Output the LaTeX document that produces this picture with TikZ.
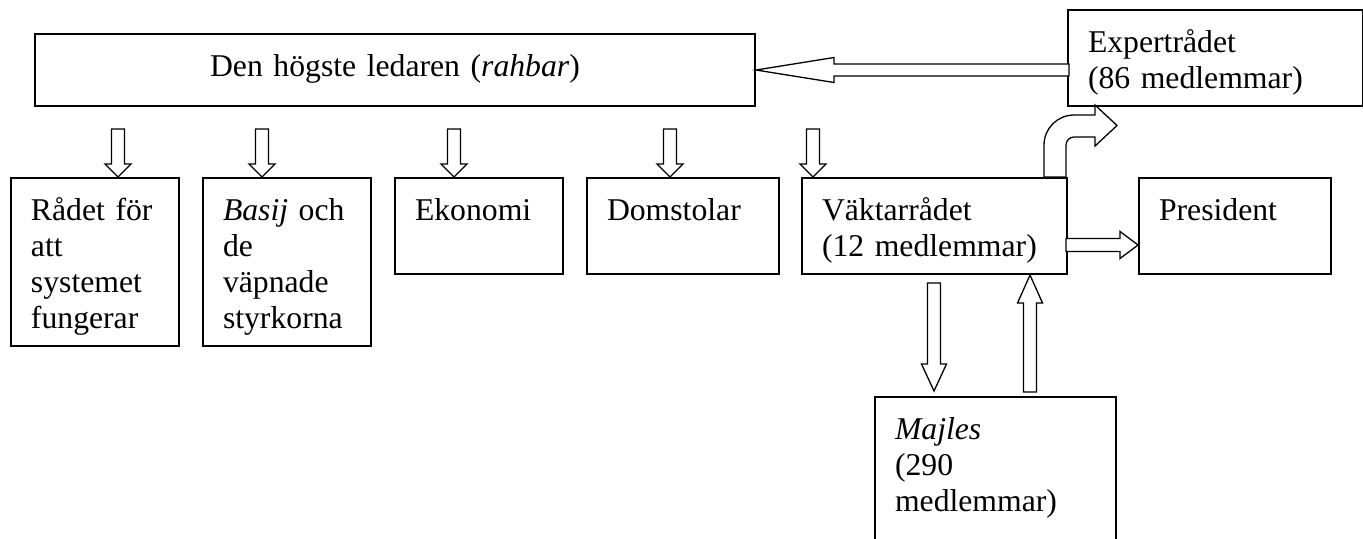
\documentclass[tikz,border=0pt]{standalone}
\usepackage{fontspec}
\setmainfont{Liberation Serif}
\usetikzlibrary{calc,positioning}
% line strut: fixes the line pitch at 18pt
\newcommand{\lstrut}{\rule[-4.5pt]{0pt}{17pt}}

\begin{document}
\begin{tikzpicture}[x=0.5pt,y=-0.5pt,font=\fontsize{15.85pt}{18pt}\selectfont,
  box/.style={draw,line width=1pt,anchor=north west,inner xsep=10pt,inner ysep=8pt,text height=13pt,align=left},
  barrow/.style={draw,fill=white,line width=.65pt,line join=miter}]
     \clip (0,0) rectangle (1363,538);

     \node[box,align=center,text width=340pt,text depth=7pt] (leader) at (34,33) {Den högste ledaren (\textit{rahbar})};
     \node[box,text width=127.5pt,text depth=19pt] (expert) at (1067,9) {\lstrut Expertrådet\\\lstrut(86 medlemmar)};

     \node[box,text width=64pt,text depth=55pt] (radet) at (10,177) {\lstrut Rådet för\\\lstrut att\\\lstrut systemet\\\lstrut fungerar};
     \node[box,text width=64pt,text depth=55pt] (basij) at (202,177) {\lstrut\textit{Basij} och\\\lstrut de\\\lstrut väpnade\\\lstrut styrkorna};
     \node[box,text width=64pt,text depth=19pt] (ekonomi) at (394,177) {Ekonomi};
     \node[box,text width=76pt,text depth=19pt] (domstolar) at (586,177) {Domstolar};
     \node[box,text width=112.5pt,text depth=19pt] (vaktar) at (801,177) {\lstrut Väktarrådet\\\lstrut(12 medlemmar)};
     \node[box,text width=76pt,text depth=19pt] (president) at (1138,177) {President};
     \node[box,text width=100.5pt,text depth=46pt] (majles) at (874,396) {\lstrut\textit{Majles}\\\lstrut(290\\\lstrut medlemmar)};

     % leader -> the five bodies below
     \draw[barrow] (radet.north west) ++(108,0) -- ++(-13,-13) -- ++(6.5,0) -- ++(0,-35) -- ++(13,0) -- ++(0,35) -- ++(6.5,0) -- cycle;
     \draw[barrow] (basij.north west) ++(60,0) -- ++(-13,-13) -- ++(6.5,0) -- ++(0,-35) -- ++(13,0) -- ++(0,35) -- ++(6.5,0) -- cycle;
     \draw[barrow] (ekonomi.north west) ++(60,0) -- ++(-13,-13) -- ++(6.5,0) -- ++(0,-35) -- ++(13,0) -- ++(0,35) -- ++(6.5,0) -- cycle;
     \draw[barrow] (domstolar.north west) ++(84,0) -- ++(-13,-13) -- ++(6.5,0) -- ++(0,-35) -- ++(13,0) -- ++(0,35) -- ++(6.5,0) -- cycle;
     \draw[barrow] (vaktar.north west) ++(12,0) -- ++(-13,-13) -- ++(6.5,0) -- ++(0,-35) -- ++(13,0) -- ++(0,35) -- ++(6.5,0) -- cycle;

     % expert -> leader
     \draw[barrow] (leader.east) -- ++(78,-12.5) -- ++(0,6.5) -- ++(235,0) -- ++(0,12) -- ++(-235,0) -- ++(0,6.5) -- cycle;

     % vaktar -> president
     \draw[barrow] (president.west) ++(0,19) -- ++(-18,-13.5) -- ++(0,7) -- ++(-54,0) -- ++(0,13) -- ++(54,0) -- ++(0,7) -- cycle;

     % vaktar <-> majles
     \draw[barrow] (majles.north west) ++(60,-5) -- ++(-12.5,-27) -- ++(6,0) -- ++(0,-81) -- ++(13,0) -- ++(0,81) -- ++(6,0) -- cycle;
     \draw[barrow] (vaktar.south west) ++(229,0) -- ++(-12.5,28) -- ++(6,0) -- ++(0,89) -- ++(13,0) -- ++(0,-89) -- ++(6,0) -- cycle;

     % vaktar -> expert (bent)
     \draw[barrow] (vaktar.north east) ++(-24,0) -- ++(0,-32) .. controls +(0,-16.6) and +(-16.6,0) .. ++(30,-30)
        -- ++(21,0) -- ++(0,-10) -- ++(22,20.5) -- ++(-22,20.5) -- ++(0,-9) -- ++(-21,0)
        .. controls +(-4.4,0) and +(0,-4.4) .. ++(-8,8) -- ++(0,32) -- cycle;
\end{tikzpicture}
\end{document}
